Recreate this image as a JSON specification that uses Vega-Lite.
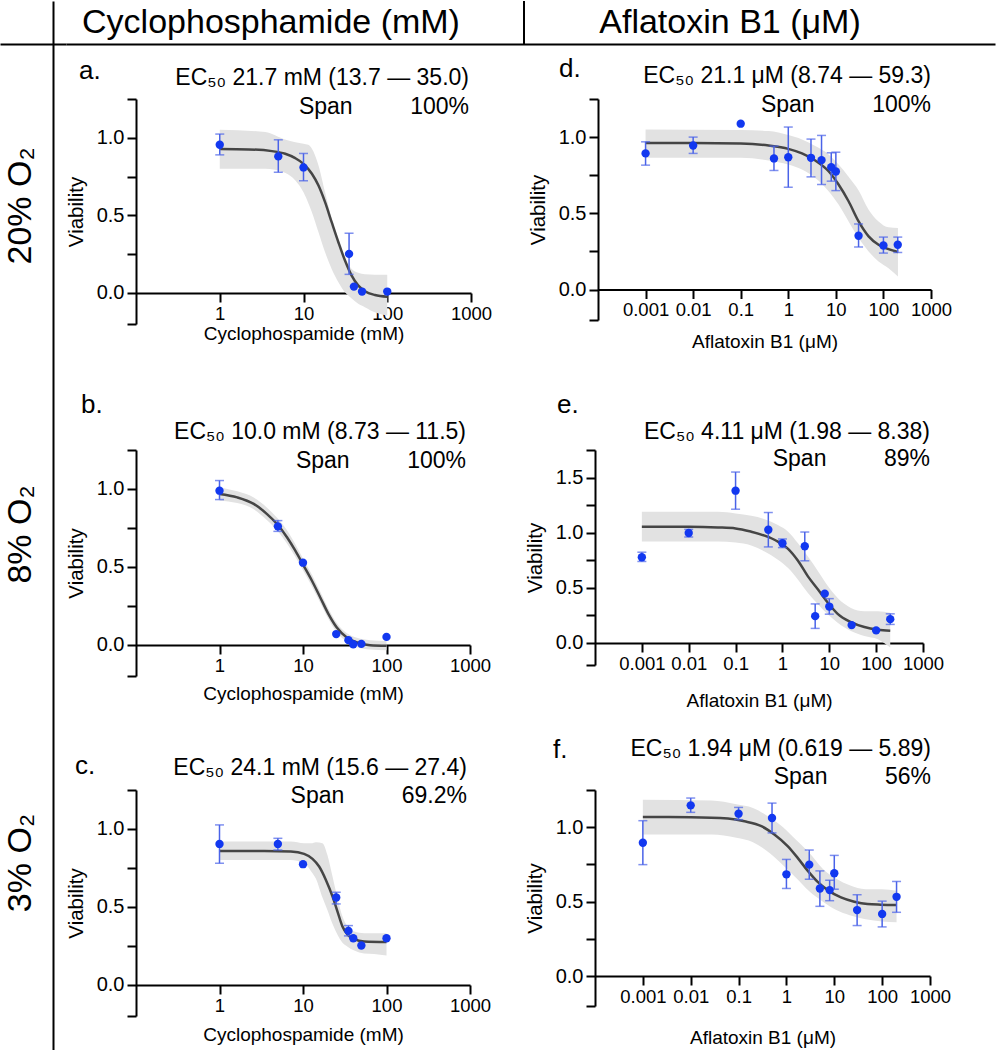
{
"$schema": "https://vega.github.io/schema/vega-lite/v6.json",
"padding": 0,
"spacing": 0,
"config": {
  "font": "Liberation Sans",
  "view": {"stroke": null},
  "axis": {"domainColor": "black", "domainWidth": 2, "tickColor": "black", "tickWidth": 2, "tickSize": 9, "labelColor": "black", "titleColor": "black", "grid": false, "labelFont": "Liberation Sans", "titleFont": "Liberation Sans", "titleFontWeight": "normal", "labelFlush": false, "labelOverlap": false},
  "axisX": {"labelFontSize": 18.5, "titleFontSize": 19, "labelPadding": 2, "tickCount": 20},
  "axisY": {"labelFontSize": 20, "titleFontSize": 20.5, "labelPadding": 3, "titlePadding": 10, "tickCount": 20},
  "text": {"font": "Liberation Sans", "color": "black"}
},
"datasets": {
  "rows": [{"r": "20% O₂"}, {"r": "8% O₂"}, {"r": "3% O₂"}],
  "pts": [
    {"p":"a","x":1,"y":0.955,"lo":0.89,"hi":1.024},
    {"p":"a","x":5,"y":0.88,"lo":0.778,"hi":0.987},
    {"p":"a","x":10,"y":0.809,"lo":0.723,"hi":0.899},
    {"p":"a","x":35,"y":0.252,"lo":0.12,"hi":0.385},
    {"p":"a","x":40,"y":0.041},
    {"p":"a","x":50,"y":0.009},
    {"p":"a","x":100,"y":0.009},
    {"p":"b","x":1,"y":0.989,"lo":0.932,"hi":1.054},
    {"p":"b","x":5,"y":0.76,"lo":0.728,"hi":0.797},
    {"p":"b","x":10,"y":0.527},
    {"p":"b","x":25,"y":0.069},
    {"p":"b","x":35,"y":0.03},
    {"p":"b","x":40,"y":0.004},
    {"p":"b","x":50,"y":0.006},
    {"p":"b","x":100,"y":0.051},
    {"p":"c","x":1,"y":0.904,"lo":0.78,"hi":1.026},
    {"p":"c","x":5,"y":0.904,"lo":0.865,"hi":0.94},
    {"p":"c","x":10,"y":0.774},
    {"p":"c","x":25,"y":0.56,"lo":0.519,"hi":0.594},
    {"p":"c","x":35,"y":0.346,"lo":0.314,"hi":0.38},
    {"p":"c","x":40,"y":0.299},
    {"p":"c","x":50,"y":0.252},
    {"p":"c","x":100,"y":0.299},
    {"p":"d","x":0.001,"y":0.893,"lo":0.816,"hi":0.969},
    {"p":"d","x":0.01,"y":0.945,"lo":0.893,"hi":1.0},
    {"p":"d","x":0.1,"y":1.088},
    {"p":"d","x":0.5,"y":0.86,"lo":0.781,"hi":0.941},
    {"p":"d","x":1,"y":0.868,"lo":0.671,"hi":1.066},
    {"p":"d","x":3,"y":0.864,"lo":0.739,"hi":0.987},
    {"p":"d","x":5,"y":0.849,"lo":0.689,"hi":1.011},
    {"p":"d","x":8,"y":0.803,"lo":0.711,"hi":0.897},
    {"p":"d","x":10,"y":0.774,"lo":0.649,"hi":0.901},
    {"p":"d","x":30,"y":0.353,"lo":0.279,"hi":0.43},
    {"p":"d","x":100,"y":0.289,"lo":0.239,"hi":0.344},
    {"p":"d","x":200,"y":0.294,"lo":0.243,"hi":0.344},
    {"p":"e","x":0.001,"y":0.778,"lo":0.739,"hi":0.823},
    {"p":"e","x":0.01,"y":0.997,"lo":0.961,"hi":1.03},
    {"p":"e","x":0.1,"y":1.381,"lo":1.213,"hi":1.55},
    {"p":"e","x":0.5,"y":1.027,"lo":0.871,"hi":1.183},
    {"p":"e","x":1,"y":0.904,"lo":0.865,"hi":0.943},
    {"p":"e","x":3,"y":0.877,"lo":0.745,"hi":1.006},
    {"p":"e","x":5,"y":0.243,"lo":0.132,"hi":0.354},
    {"p":"e","x":8,"y":0.447},
    {"p":"e","x":10,"y":0.33,"lo":0.261,"hi":0.402},
    {"p":"e","x":30,"y":0.162},
    {"p":"e","x":100,"y":0.114},
    {"p":"e","x":200,"y":0.216,"lo":0.168,"hi":0.264},
    {"p":"f","x":0.001,"y":0.896,"lo":0.749,"hi":1.044},
    {"p":"f","x":0.01,"y":1.147,"lo":1.1,"hi":1.196},
    {"p":"f","x":0.1,"y":1.091,"lo":1.051,"hi":1.133},
    {"p":"f","x":0.5,"y":1.062,"lo":0.962,"hi":1.162},
    {"p":"f","x":1,"y":0.684,"lo":0.589,"hi":0.784},
    {"p":"f","x":3,"y":0.749,"lo":0.651,"hi":0.847},
    {"p":"f","x":5,"y":0.589,"lo":0.469,"hi":0.707},
    {"p":"f","x":8,"y":0.578,"lo":0.507,"hi":0.644},
    {"p":"f","x":10,"y":0.691,"lo":0.584,"hi":0.811},
    {"p":"f","x":30,"y":0.444,"lo":0.34,"hi":0.547},
    {"p":"f","x":100,"y":0.418,"lo":0.331,"hi":0.504},
    {"p":"f","x":200,"y":0.533,"lo":0.429,"hi":0.636}
  ],
  "curve": [
    {"p":"a","x":1,"y":0.927},{"p":"a","x":2.21,"y":0.925},{"p":"a","x":4.2,"y":0.914},{"p":"a","x":6.05,"y":0.897},{"p":"a","x":7.96,"y":0.869},{"p":"a","x":10,"y":0.832},{"p":"a","x":12.6,"y":0.768},{"p":"a","x":15.1,"y":0.692},{"p":"a","x":18.1,"y":0.585},{"p":"a","x":21.7,"y":0.456},{"p":"a","x":26.1,"y":0.327},{"p":"a","x":31.3,"y":0.209},{"p":"a","x":37.6,"y":0.112},{"p":"a","x":45.2,"y":0.047},{"p":"a","x":54.2,"y":0.011},{"p":"a","x":71.3,"y":-0.013},{"p":"a","x":100,"y":-0.024},
    {"p":"b","x":1,"y":0.968},{"p":"b","x":1.63,"y":0.946},{"p":"b","x":2.57,"y":0.904},{"p":"b","x":3.71,"y":0.839},{"p":"b","x":4.89,"y":0.775},{"p":"b","x":6.43,"y":0.69},{"p":"b","x":8.09,"y":0.604},{"p":"b","x":10.2,"y":0.507},{"p":"b","x":12.8,"y":0.411},{"p":"b","x":16.1,"y":0.304},{"p":"b","x":20.2,"y":0.197},{"p":"b","x":25.4,"y":0.111},{"p":"b","x":33.5,"y":0.047},{"p":"b","x":44.3,"y":0.015},{"p":"b","x":63.6,"y":-0.002},{"p":"b","x":100,"y":-0.006},
    {"p":"c","x":1,"y":0.859},{"p":"c","x":3.43,"y":0.859},{"p":"c","x":7.14,"y":0.855},{"p":"c","x":10.3,"y":0.84},{"p":"c","x":13,"y":0.808},{"p":"c","x":15.6,"y":0.759},{"p":"c","x":18.8,"y":0.673},{"p":"c","x":22.6,"y":0.566},{"p":"c","x":25.9,"y":0.47},{"p":"c","x":29.7,"y":0.374},{"p":"c","x":34.2,"y":0.321},{"p":"c","x":41.1,"y":0.293},{"p":"c","x":54,"y":0.278},{"p":"c","x":100,"y":0.274},
    {"p":"d","x":0.001,"y":0.961},{"p":"d","x":0.01,"y":0.961},{"p":"d","x":0.1,"y":0.958},{"p":"d","x":0.386,"y":0.945},{"p":"d","x":1,"y":0.923},{"p":"d","x":1.94,"y":0.893},{"p":"d","x":3.69,"y":0.846},{"p":"d","x":7.03,"y":0.776},{"p":"d","x":11.4,"y":0.689},{"p":"d","x":18.5,"y":0.579},{"p":"d","x":30.1,"y":0.447},{"p":"d","x":48.8,"y":0.349},{"p":"d","x":79,"y":0.294},{"p":"d","x":128,"y":0.265},{"p":"d","x":202,"y":0.246},
    {"p":"e","x":0.001,"y":1.054},{"p":"e","x":0.01,"y":1.054},{"p":"e","x":0.042,"y":1.048},{"p":"e","x":0.1,"y":1.039},{"p":"e","x":0.216,"y":1.009},{"p":"e","x":0.416,"y":0.973},{"p":"e","x":0.8,"y":0.919},{"p":"e","x":1.32,"y":0.853},{"p":"e","x":2.15,"y":0.745},{"p":"e","x":3.5,"y":0.604},{"p":"e","x":5.8,"y":0.483},{"p":"e","x":9.4,"y":0.363},{"p":"e","x":15.1,"y":0.264},{"p":"e","x":29,"y":0.189},{"p":"e","x":56,"y":0.144},{"p":"e","x":109,"y":0.12},{"p":"e","x":200,"y":0.111},
    {"p":"f","x":0.001,"y":1.069},{"p":"f","x":0.01,"y":1.067},{"p":"f","x":0.06,"y":1.058},{"p":"f","x":0.133,"y":1.04},{"p":"f","x":0.3,"y":1.007},{"p":"f","x":0.56,"y":0.951},{"p":"f","x":1.06,"y":0.873},{"p":"f","x":1.7,"y":0.796},{"p":"f","x":2.8,"y":0.707},{"p":"f","x":4.5,"y":0.633},{"p":"f","x":7.3,"y":0.578},{"p":"f","x":13.8,"y":0.529},{"p":"f","x":26.2,"y":0.5},{"p":"f","x":49.5,"y":0.484},{"p":"f","x":94,"y":0.48},{"p":"f","x":200,"y":0.478}
  ],
  "band": [
    {"p":"a","x":1,"lo":0.8,"hi":1.052},{"p":"a","x":3.5,"lo":0.8,"hi":1.037},{"p":"a","x":6,"lo":0.775,"hi":0.989},{"p":"a","x":8,"lo":0.725,"hi":0.972},{"p":"a","x":10,"lo":0.649,"hi":0.962},{"p":"a","x":11.4,"lo":0.58,"hi":0.955},{"p":"a","x":12.6,"lo":0.52,"hi":0.93},{"p":"a","x":15.1,"lo":0.391,"hi":0.822},{"p":"a","x":18.1,"lo":0.262,"hi":0.649},{"p":"a","x":21.7,"lo":0.155,"hi":0.477},{"p":"a","x":26.1,"lo":0.069,"hi":0.327},{"p":"a","x":31.3,"lo":0.004,"hi":0.219},{"p":"a","x":37.6,"lo":-0.035,"hi":0.155},{"p":"a","x":45,"lo":-0.07,"hi":0.13},{"p":"a","x":54,"lo":-0.092,"hi":0.12},{"p":"a","x":71,"lo":-0.125,"hi":0.118},{"p":"a","x":100,"lo":-0.146,"hi":0.118},
    {"p":"b","x":1,"lo":0.925,"hi":1.01},{"p":"b","x":1.63,"lo":0.91,"hi":0.985},{"p":"b","x":2.57,"lo":0.87,"hi":0.945},{"p":"b","x":3.71,"lo":0.8,"hi":0.88},{"p":"b","x":4.89,"lo":0.735,"hi":0.815},{"p":"b","x":6.43,"lo":0.65,"hi":0.735},{"p":"b","x":8.09,"lo":0.565,"hi":0.645},{"p":"b","x":10.2,"lo":0.47,"hi":0.545},{"p":"b","x":12.8,"lo":0.375,"hi":0.45},{"p":"b","x":16.1,"lo":0.27,"hi":0.34},{"p":"b","x":20.2,"lo":0.165,"hi":0.23},{"p":"b","x":25.4,"lo":0.08,"hi":0.14},{"p":"b","x":33.5,"lo":0.02,"hi":0.075},{"p":"b","x":44.3,"lo":-0.015,"hi":0.045},{"p":"b","x":63.6,"lo":-0.03,"hi":0.03},{"p":"b","x":100,"lo":-0.035,"hi":0.025},
    {"p":"c","x":1,"lo":0.801,"hi":0.919},{"p":"c","x":7.1,"lo":0.801,"hi":0.919},{"p":"c","x":10.3,"lo":0.78,"hi":0.908},{"p":"c","x":12.6,"lo":0.726,"hi":0.908},{"p":"c","x":14.3,"lo":0.68,"hi":0.915},{"p":"c","x":17.1,"lo":0.56,"hi":0.908},{"p":"c","x":19.6,"lo":0.48,"hi":0.833},{"p":"c","x":22.6,"lo":0.39,"hi":0.694},{"p":"c","x":25.9,"lo":0.321,"hi":0.556},{"p":"c","x":29.7,"lo":0.27,"hi":0.438},{"p":"c","x":34.2,"lo":0.245,"hi":0.374},{"p":"c","x":41.1,"lo":0.22,"hi":0.342},{"p":"c","x":54,"lo":0.201,"hi":0.331},{"p":"c","x":71,"lo":0.197,"hi":0.331},{"p":"c","x":100,"lo":0.188,"hi":0.331},
    {"p":"d","x":0.001,"lo":0.864,"hi":1.05},{"p":"d","x":0.1,"lo":0.864,"hi":1.046},{"p":"d","x":0.386,"lo":0.846,"hi":1.04},{"p":"d","x":1,"lo":0.82,"hi":1.013},{"p":"d","x":1.94,"lo":0.787,"hi":0.985},{"p":"d","x":3.69,"lo":0.732,"hi":0.941},{"p":"d","x":7.03,"lo":0.645,"hi":0.886},{"p":"d","x":11.4,"lo":0.557,"hi":0.82},{"p":"d","x":18.5,"lo":0.447,"hi":0.74},{"p":"d","x":30.1,"lo":0.338,"hi":0.65},{"p":"d","x":48.8,"lo":0.25,"hi":0.524},{"p":"d","x":79,"lo":0.184,"hi":0.447},{"p":"d","x":128,"lo":0.14,"hi":0.408},{"p":"d","x":202,"lo":0.086,"hi":0.404},
    {"p":"e","x":0.001,"lo":0.919,"hi":1.189},{"p":"e","x":0.042,"lo":0.919,"hi":1.189},{"p":"e","x":0.1,"lo":0.91,"hi":1.174},{"p":"e","x":0.216,"lo":0.883,"hi":1.153},{"p":"e","x":0.416,"lo":0.829,"hi":1.123},{"p":"e","x":0.8,"lo":0.754,"hi":1.069},{"p":"e","x":1.32,"lo":0.679,"hi":1.009},{"p":"e","x":2.15,"lo":0.574,"hi":0.904},{"p":"e","x":3.5,"lo":0.453,"hi":0.784},{"p":"e","x":5.8,"lo":0.348,"hi":0.649},{"p":"e","x":9.4,"lo":0.258,"hi":0.514},{"p":"e","x":15.1,"lo":0.183,"hi":0.408},{"p":"e","x":29,"lo":0.108,"hi":0.318},{"p":"e","x":56,"lo":0.063,"hi":0.288},{"p":"e","x":109,"lo":0.033,"hi":0.288},{"p":"e","x":200,"lo":-0.042,"hi":0.273},
    {"p":"f","x":0.001,"lo":0.951,"hi":1.184},{"p":"f","x":0.027,"lo":0.951,"hi":1.18},{"p":"f","x":0.09,"lo":0.93,"hi":1.155},{"p":"f","x":0.2,"lo":0.9,"hi":1.13},{"p":"f","x":0.45,"lo":0.825,"hi":1.065},{"p":"f","x":0.85,"lo":0.745,"hi":1.0},{"p":"f","x":1.6,"lo":0.66,"hi":0.915},{"p":"f","x":3,"lo":0.57,"hi":0.829},{"p":"f","x":5.8,"lo":0.5,"hi":0.72},{"p":"f","x":11,"lo":0.445,"hi":0.655},{"p":"f","x":21,"lo":0.41,"hi":0.61},{"p":"f","x":45,"lo":0.382,"hi":0.584},{"p":"f","x":100,"lo":0.367,"hi":0.584},{"p":"f","x":200,"lo":0.362,"hi":0.573}
  ]
},
"hconcat": [
  {"width": 66, "height": 1050,
   "data": {"name": "rows"},
   "mark": {"type": "text", "fontSize": 34, "angle": 270, "align": "center", "baseline": "middle", "dy": -12},
   "encoding": {
     "text": {"field": "r"},
     "x": {"datum": 0, "type": "quantitative", "scale": {"domain": [-1, 1]}, "axis": {"orient": "top", "offset": -43, "domain": true, "ticks": false, "labels": false, "title": null}},
     "y": {"field": "r", "type": "nominal", "sort": null, "scale": {"type": "point", "padding": 0.598, "align": 0.5216}, "axis": {"orient": "right", "offset": -13, "domain": true, "ticks": false, "labels": false, "title": null}}}},
  {"concat": [
    {"width": 859, "height": 43,
     "data": {"values": [{}]},
     "layer": [
       {"mark": {"type": "rule", "color": "black", "strokeWidth": 2},
        "encoding": {"x": {"datum": 1, "type": "quantitative", "scale": {"domain": [0, 2.0284], "range": [-70, 859], "nice": false, "zero": false},
          "axis": {"orient": "bottom", "domain": true, "ticks": false, "labels": false, "title": null}}}},
       {"mark": {"type": "text", "text": "Cyclophosphamide (mM)", "fontSize": 34, "baseline": "middle", "dx": -24},
        "encoding": {"x": {"datum": 0.5, "type": "quantitative", "scale": {"domain": [0, 2.0284], "range": [-70, 859], "nice": false, "zero": false}}}},
       {"mark": {"type": "text", "text": "Aflatoxin B1 (μM)", "fontSize": 34, "baseline": "middle", "dx": -23},
        "encoding": {"x": {"datum": 1.5, "type": "quantitative", "scale": {"domain": [0, 2.0284], "range": [-70, 859], "nice": false, "zero": false}}}}
     ]},
    {"vconcat": [
      {"hconcat": [
        {"width": 335, "height": 225,
         "layer": [
          {"data": {"name": "band"}, "transform": [{"filter": "datum.p=='a'"}],
           "mark": {"type": "area", "color": "#e2e2e2", "interpolate": "monotone"},
           "encoding": {
             "x": {"field": "x", "type": "quantitative", "title": "Cyclophospamide (mM)", "scale": {"type": "log", "domain": [0.1, 1000], "nice": false}, "axis": {"values": [1, 10, 100, 1000], "format": "~g", "offset": -31, "titlePadding": 2}},
             "y": {"field": "lo", "type": "quantitative", "title": "Viability", "scale": {"domain": [-0.2, 1.25], "nice": false, "zero": false}, "axis": {"values": [-0.2, 0, 0.25, 0.5, 0.75, 1, 1.25], "tickCount": 20, "labelExpr": "datum.value == 0 ? '0.0' : datum.value == 0.5 ? '0.5' : datum.value == 1 ? '1.0' : ''"}},
             "y2": {"field": "hi"}}},
          {"data": {"name": "curve"}, "transform": [{"filter": "datum.p=='a'"}],
           "mark": {"type": "line", "color": "#454545", "strokeWidth": 2.5, "interpolate": "monotone"},
           "encoding": {"x": {"field": "x", "type": "quantitative", "title": "Cyclophospamide (mM)", "scale": {"type": "log", "domain": [0.1, 1000], "nice": false}}, "y": {"field": "y", "type": "quantitative", "title": "Viability", "scale": {"domain": [-0.2, 1.25], "nice": false, "zero": false}}}},
          {"data": {"name": "pts"}, "transform": [{"filter": "datum.p=='a' && isValid(datum.lo)"}],
           "mark": {"type": "errorbar", "ticks": {"size": 9}, "thickness": 1.5, "color": "#4a63e8"},
           "encoding": {"x": {"field": "x", "type": "quantitative", "title": "Cyclophospamide (mM)", "scale": {"type": "log", "domain": [0.1, 1000], "nice": false}}, "y": {"field": "lo", "type": "quantitative", "title": "Viability", "scale": {"domain": [-0.2, 1.25], "nice": false, "zero": false}}, "y2": {"field": "hi"}}},
          {"data": {"name": "pts"}, "transform": [{"filter": "datum.p=='a'"}],
           "mark": {"type": "circle", "size": 70, "color": "#1238f0", "opacity": 1},
           "encoding": {"x": {"field": "x", "type": "quantitative", "title": "Cyclophospamide (mM)", "scale": {"type": "log", "domain": [0.1, 1000], "nice": false}}, "y": {"field": "y", "type": "quantitative", "title": "Viability", "scale": {"domain": [-0.2, 1.25], "nice": false, "zero": false}}}},
          {"data": {"values": [{}]},
           "mark": {"type": "text", "text": "a.", "fontSize": 26, "align": "left", "baseline": "alphabetic", "dx": -57, "dy": -20},
           "encoding": {"x": {"datum": 0.1, "type": "quantitative", "scale": {"type": "log", "domain": [0.1, 1000], "nice": false}}, "y": {"datum": 1.25, "type": "quantitative", "scale": {"domain": [-0.2, 1.25], "nice": false, "zero": false}}}},
          {"data": {"values": [{}]},
           "mark": {"type": "text", "text": "EC₅₀ 21.7 mM (13.7 — 35.0)", "fontSize": 23, "align": "right", "baseline": "alphabetic", "dx": -2, "dy": -14},
           "encoding": {"x": {"datum": 1000, "type": "quantitative", "scale": {"type": "log", "domain": [0.1, 1000], "nice": false}}, "y": {"datum": 1.25, "type": "quantitative", "scale": {"domain": [-0.2, 1.25], "nice": false, "zero": false}}}},
          {"data": {"values": [{}]},
           "mark": {"type": "text", "text": "Span\u00a0\u00a0\u00a0\u00a0\u00a0\u00a0\u00a0\u00a0\u00a0100%", "fontSize": 23, "align": "right", "baseline": "alphabetic", "dx": -2, "dy": 15},
           "encoding": {"x": {"datum": 1000, "type": "quantitative", "scale": {"type": "log", "domain": [0.1, 1000], "nice": false}}, "y": {"datum": 1.25, "type": "quantitative", "scale": {"domain": [-0.2, 1.25], "nice": false, "zero": false}}}}
         ]},
        {"width": 333, "height": 221,
         "layer": [
          {"data": {"name": "band"}, "transform": [{"filter": "datum.p=='d'"}],
           "mark": {"type": "area", "color": "#e2e2e2", "interpolate": "monotone"},
           "encoding": {
             "x": {"field": "x", "type": "quantitative", "title": "Aflatoxin B1 (μM)", "scale": {"type": "log", "domain": [0.0001, 1000], "nice": false}, "axis": {"values": [0.001, 0.01, 0.1, 1, 10, 100, 1000], "format": "~g", "offset": -30.5, "titlePadding": 13}},
             "y": {"field": "lo", "type": "quantitative", "title": "Viability", "scale": {"domain": [-0.2, 1.25], "nice": false, "zero": false}, "axis": {"values": [-0.2, 0, 0.25, 0.5, 0.75, 1, 1.25], "tickCount": 20, "labelExpr": "datum.value == 0 ? '0.0' : datum.value == 0.5 ? '0.5' : datum.value == 1 ? '1.0' : ''"}},
             "y2": {"field": "hi"}}},
          {"data": {"name": "curve"}, "transform": [{"filter": "datum.p=='d'"}],
           "mark": {"type": "line", "color": "#454545", "strokeWidth": 2.5, "interpolate": "monotone"},
           "encoding": {"x": {"field": "x", "type": "quantitative", "title": "Aflatoxin B1 (μM)", "scale": {"type": "log", "domain": [0.0001, 1000], "nice": false}}, "y": {"field": "y", "type": "quantitative", "title": "Viability", "scale": {"domain": [-0.2, 1.25], "nice": false, "zero": false}}}},
          {"data": {"name": "pts"}, "transform": [{"filter": "datum.p=='d' && isValid(datum.lo)"}],
           "mark": {"type": "errorbar", "ticks": {"size": 9}, "thickness": 1.5, "color": "#4a63e8"},
           "encoding": {"x": {"field": "x", "type": "quantitative", "title": "Aflatoxin B1 (μM)", "scale": {"type": "log", "domain": [0.0001, 1000], "nice": false}}, "y": {"field": "lo", "type": "quantitative", "title": "Viability", "scale": {"domain": [-0.2, 1.25], "nice": false, "zero": false}}, "y2": {"field": "hi"}}},
          {"data": {"name": "pts"}, "transform": [{"filter": "datum.p=='d'"}],
           "mark": {"type": "circle", "size": 70, "color": "#1238f0", "opacity": 1},
           "encoding": {"x": {"field": "x", "type": "quantitative", "title": "Aflatoxin B1 (μM)", "scale": {"type": "log", "domain": [0.0001, 1000], "nice": false}}, "y": {"field": "y", "type": "quantitative", "title": "Viability", "scale": {"domain": [-0.2, 1.25], "nice": false, "zero": false}}}},
          {"data": {"values": [{}]},
           "mark": {"type": "text", "text": "d.", "fontSize": 26, "align": "left", "baseline": "alphabetic", "dx": -39, "dy": -22},
           "encoding": {"x": {"datum": 0.0001, "type": "quantitative", "scale": {"type": "log", "domain": [0.0001, 1000], "nice": false}}, "y": {"datum": 1.25, "type": "quantitative", "scale": {"domain": [-0.2, 1.25], "nice": false, "zero": false}}}},
          {"data": {"values": [{}]},
           "mark": {"type": "text", "text": "EC₅₀ 21.1 μM (8.74 — 59.3)", "fontSize": 23, "align": "right", "baseline": "alphabetic", "dx": 0, "dy": -16},
           "encoding": {"x": {"datum": 1000, "type": "quantitative", "scale": {"type": "log", "domain": [0.0001, 1000], "nice": false}}, "y": {"datum": 1.25, "type": "quantitative", "scale": {"domain": [-0.2, 1.25], "nice": false, "zero": false}}}},
          {"data": {"values": [{}]},
           "mark": {"type": "text", "text": "Span\u00a0\u00a0\u00a0\u00a0\u00a0\u00a0\u00a0\u00a0\u00a0100%", "fontSize": 23, "align": "right", "baseline": "alphabetic", "dx": 0, "dy": 13},
           "encoding": {"x": {"datum": 1000, "type": "quantitative", "scale": {"type": "log", "domain": [0.0001, 1000], "nice": false}}, "y": {"datum": 1.25, "type": "quantitative", "scale": {"domain": [-0.2, 1.25], "nice": false, "zero": false}}}}
         ]}
      ], "spacing": 36},
      {"vconcat": [
        {"hconcat": [
          {"width": 334, "height": 226,
           "layer": [
            {"data": {"name": "band"}, "transform": [{"filter": "datum.p=='b'"}],
             "mark": {"type": "area", "color": "#e2e2e2", "interpolate": "monotone"},
             "encoding": {
               "x": {"field": "x", "type": "quantitative", "title": "Cyclophospamide (mM)", "scale": {"type": "log", "domain": [0.1, 1000], "nice": false}, "axis": {"values": [1, 10, 100, 1000], "format": "~g", "offset": -31, "titlePadding": 10}},
               "y": {"field": "lo", "type": "quantitative", "title": "Viability", "scale": {"domain": [-0.2, 1.25], "nice": false, "zero": false}, "axis": {"values": [-0.2, 0, 0.25, 0.5, 0.75, 1, 1.25], "tickCount": 20, "labelExpr": "datum.value == 0 ? '0.0' : datum.value == 0.5 ? '0.5' : datum.value == 1 ? '1.0' : ''"}},
               "y2": {"field": "hi"}}},
            {"data": {"name": "curve"}, "transform": [{"filter": "datum.p=='b'"}],
             "mark": {"type": "line", "color": "#454545", "strokeWidth": 2.5, "interpolate": "monotone"},
             "encoding": {"x": {"field": "x", "type": "quantitative", "title": "Cyclophospamide (mM)", "scale": {"type": "log", "domain": [0.1, 1000], "nice": false}}, "y": {"field": "y", "type": "quantitative", "title": "Viability", "scale": {"domain": [-0.2, 1.25], "nice": false, "zero": false}}}},
            {"data": {"name": "pts"}, "transform": [{"filter": "datum.p=='b' && isValid(datum.lo)"}],
             "mark": {"type": "errorbar", "ticks": {"size": 9}, "thickness": 1.5, "color": "#4a63e8"},
             "encoding": {"x": {"field": "x", "type": "quantitative", "title": "Cyclophospamide (mM)", "scale": {"type": "log", "domain": [0.1, 1000], "nice": false}}, "y": {"field": "lo", "type": "quantitative", "title": "Viability", "scale": {"domain": [-0.2, 1.25], "nice": false, "zero": false}}, "y2": {"field": "hi"}}},
            {"data": {"name": "pts"}, "transform": [{"filter": "datum.p=='b'"}],
             "mark": {"type": "circle", "size": 70, "color": "#1238f0", "opacity": 1},
             "encoding": {"x": {"field": "x", "type": "quantitative", "title": "Cyclophospamide (mM)", "scale": {"type": "log", "domain": [0.1, 1000], "nice": false}}, "y": {"field": "y", "type": "quantitative", "title": "Viability", "scale": {"domain": [-0.2, 1.25], "nice": false, "zero": false}}}},
            {"data": {"values": [{}]},
             "mark": {"type": "text", "text": "b.", "fontSize": 26, "align": "left", "baseline": "alphabetic", "dx": -55, "dy": -37},
             "encoding": {"x": {"datum": 0.1, "type": "quantitative", "scale": {"type": "log", "domain": [0.1, 1000], "nice": false}}, "y": {"datum": 1.25, "type": "quantitative", "scale": {"domain": [-0.2, 1.25], "nice": false, "zero": false}}}},
            {"data": {"values": [{}]},
             "mark": {"type": "text", "text": "EC₅₀ 10.0 mM (8.73 — 11.5)", "fontSize": 23, "align": "right", "baseline": "alphabetic", "dx": -4, "dy": -11},
             "encoding": {"x": {"datum": 1000, "type": "quantitative", "scale": {"type": "log", "domain": [0.1, 1000], "nice": false}}, "y": {"datum": 1.25, "type": "quantitative", "scale": {"domain": [-0.2, 1.25], "nice": false, "zero": false}}}},
            {"data": {"values": [{}]},
             "mark": {"type": "text", "text": "Span\u00a0\u00a0\u00a0\u00a0\u00a0\u00a0\u00a0\u00a0\u00a0100%", "fontSize": 23, "align": "right", "baseline": "alphabetic", "dx": -4, "dy": 18},
             "encoding": {"x": {"datum": 1000, "type": "quantitative", "scale": {"type": "log", "domain": [0.1, 1000], "nice": false}}, "y": {"datum": 1.25, "type": "quantitative", "scale": {"domain": [-0.2, 1.25], "nice": false, "zero": false}}}}
           ]},
          {"width": 328, "height": 215,
           "layer": [
            {"data": {"name": "band"}, "transform": [{"filter": "datum.p=='e'"}],
             "mark": {"type": "area", "color": "#e2e2e2", "interpolate": "monotone"},
             "encoding": {
               "x": {"field": "x", "type": "quantitative", "title": "Aflatoxin B1 (μM)", "scale": {"type": "log", "domain": [0.0001, 1000], "nice": false}, "axis": {"values": [0.001, 0.01, 0.1, 1, 10, 100, 1000], "format": "~g", "offset": -22, "titlePadding": 19}},
               "y": {"field": "lo", "type": "quantitative", "title": "Viability", "scale": {"domain": [-0.2, 1.75], "nice": false, "zero": false}, "axis": {"values": [-0.2, 0, 0.25, 0.5, 0.75, 1, 1.25, 1.5, 1.75], "tickCount": 20, "labelExpr": "datum.value == 0 ? '0.0' : datum.value == 0.5 ? '0.5' : datum.value == 1 ? '1.0' : datum.value == 1.5 ? '1.5' : ''"}},
               "y2": {"field": "hi"}}},
            {"data": {"name": "curve"}, "transform": [{"filter": "datum.p=='e'"}],
             "mark": {"type": "line", "color": "#454545", "strokeWidth": 2.5, "interpolate": "monotone"},
             "encoding": {"x": {"field": "x", "type": "quantitative", "title": "Aflatoxin B1 (μM)", "scale": {"type": "log", "domain": [0.0001, 1000], "nice": false}}, "y": {"field": "y", "type": "quantitative", "title": "Viability", "scale": {"domain": [-0.2, 1.75], "nice": false, "zero": false}}}},
            {"data": {"name": "pts"}, "transform": [{"filter": "datum.p=='e' && isValid(datum.lo)"}],
             "mark": {"type": "errorbar", "ticks": {"size": 9}, "thickness": 1.5, "color": "#4a63e8"},
             "encoding": {"x": {"field": "x", "type": "quantitative", "title": "Aflatoxin B1 (μM)", "scale": {"type": "log", "domain": [0.0001, 1000], "nice": false}}, "y": {"field": "lo", "type": "quantitative", "title": "Viability", "scale": {"domain": [-0.2, 1.75], "nice": false, "zero": false}}, "y2": {"field": "hi"}}},
            {"data": {"name": "pts"}, "transform": [{"filter": "datum.p=='e'"}],
             "mark": {"type": "circle", "size": 70, "color": "#1238f0", "opacity": 1},
             "encoding": {"x": {"field": "x", "type": "quantitative", "title": "Aflatoxin B1 (μM)", "scale": {"type": "log", "domain": [0.0001, 1000], "nice": false}}, "y": {"field": "y", "type": "quantitative", "title": "Viability", "scale": {"domain": [-0.2, 1.75], "nice": false, "zero": false}}}},
            {"data": {"values": [{}]},
             "mark": {"type": "text", "text": "e.", "fontSize": 26, "align": "left", "baseline": "alphabetic", "dx": -38, "dy": -37},
             "encoding": {"x": {"datum": 0.0001, "type": "quantitative", "scale": {"type": "log", "domain": [0.0001, 1000], "nice": false}}, "y": {"datum": 1.75, "type": "quantitative", "scale": {"domain": [-0.2, 1.75], "nice": false, "zero": false}}}},
            {"data": {"values": [{}]},
             "mark": {"type": "text", "text": "EC₅₀ 4.11 μM (1.98 — 8.38)", "fontSize": 23, "align": "right", "baseline": "alphabetic", "dx": 7, "dy": -11},
             "encoding": {"x": {"datum": 1000, "type": "quantitative", "scale": {"type": "log", "domain": [0.0001, 1000], "nice": false}}, "y": {"datum": 1.75, "type": "quantitative", "scale": {"domain": [-0.2, 1.75], "nice": false, "zero": false}}}},
            {"data": {"values": [{}]},
             "mark": {"type": "text", "text": "Span\u00a0\u00a0\u00a0\u00a0\u00a0\u00a0\u00a0\u00a0\u00a089%", "fontSize": 23, "align": "right", "baseline": "alphabetic", "dx": 7, "dy": 16},
             "encoding": {"x": {"datum": 1000, "type": "quantitative", "scale": {"type": "log", "domain": [0.0001, 1000], "nice": false}}, "y": {"datum": 1.75, "type": "quantitative", "scale": {"domain": [-0.2, 1.75], "nice": false, "zero": false}}}}
           ]}
        ], "spacing": 34},
        {"hconcat": [
          {"width": 334, "height": 226,
           "layer": [
            {"data": {"name": "band"}, "transform": [{"filter": "datum.p=='c'"}],
             "mark": {"type": "area", "color": "#e2e2e2", "interpolate": "monotone"},
             "encoding": {
               "x": {"field": "x", "type": "quantitative", "title": "Cyclophospamide (mM)", "scale": {"type": "log", "domain": [0.1, 1000], "nice": false}, "axis": {"values": [1, 10, 100, 1000], "format": "~g", "offset": -31, "titlePadding": 11}},
               "y": {"field": "lo", "type": "quantitative", "title": "Viability", "scale": {"domain": [-0.2, 1.25], "nice": false, "zero": false}, "axis": {"values": [-0.2, 0, 0.25, 0.5, 0.75, 1, 1.25], "tickCount": 20, "labelExpr": "datum.value == 0 ? '0.0' : datum.value == 0.5 ? '0.5' : datum.value == 1 ? '1.0' : ''"}},
               "y2": {"field": "hi"}}},
            {"data": {"name": "curve"}, "transform": [{"filter": "datum.p=='c'"}],
             "mark": {"type": "line", "color": "#454545", "strokeWidth": 2.5, "interpolate": "monotone"},
             "encoding": {"x": {"field": "x", "type": "quantitative", "title": "Cyclophospamide (mM)", "scale": {"type": "log", "domain": [0.1, 1000], "nice": false}}, "y": {"field": "y", "type": "quantitative", "title": "Viability", "scale": {"domain": [-0.2, 1.25], "nice": false, "zero": false}}}},
            {"data": {"name": "pts"}, "transform": [{"filter": "datum.p=='c' && isValid(datum.lo)"}],
             "mark": {"type": "errorbar", "ticks": {"size": 9}, "thickness": 1.5, "color": "#4a63e8"},
             "encoding": {"x": {"field": "x", "type": "quantitative", "title": "Cyclophospamide (mM)", "scale": {"type": "log", "domain": [0.1, 1000], "nice": false}}, "y": {"field": "lo", "type": "quantitative", "title": "Viability", "scale": {"domain": [-0.2, 1.25], "nice": false, "zero": false}}, "y2": {"field": "hi"}}},
            {"data": {"name": "pts"}, "transform": [{"filter": "datum.p=='c'"}],
             "mark": {"type": "circle", "size": 70, "color": "#1238f0", "opacity": 1},
             "encoding": {"x": {"field": "x", "type": "quantitative", "title": "Cyclophospamide (mM)", "scale": {"type": "log", "domain": [0.1, 1000], "nice": false}}, "y": {"field": "y", "type": "quantitative", "title": "Viability", "scale": {"domain": [-0.2, 1.25], "nice": false, "zero": false}}}},
            {"data": {"values": [{}]},
             "mark": {"type": "text", "text": "c.", "fontSize": 26, "align": "left", "baseline": "alphabetic", "dx": -61, "dy": -16},
             "encoding": {"x": {"datum": 0.1, "type": "quantitative", "scale": {"type": "log", "domain": [0.1, 1000], "nice": false}}, "y": {"datum": 1.25, "type": "quantitative", "scale": {"domain": [-0.2, 1.25], "nice": false, "zero": false}}}},
            {"data": {"values": [{}]},
             "mark": {"type": "text", "text": "EC₅₀ 24.1 mM (15.6 — 27.4)", "fontSize": 23, "align": "right", "baseline": "alphabetic", "dx": -3, "dy": -15},
             "encoding": {"x": {"datum": 1000, "type": "quantitative", "scale": {"type": "log", "domain": [0.1, 1000], "nice": false}}, "y": {"datum": 1.25, "type": "quantitative", "scale": {"domain": [-0.2, 1.25], "nice": false, "zero": false}}}},
            {"data": {"values": [{}]},
             "mark": {"type": "text", "text": "Span\u00a0\u00a0\u00a0\u00a0\u00a0\u00a0\u00a0\u00a0\u00a069.2%", "fontSize": 23, "align": "right", "baseline": "alphabetic", "dx": -3, "dy": 13},
             "encoding": {"x": {"datum": 1000, "type": "quantitative", "scale": {"type": "log", "domain": [0.1, 1000], "nice": false}}, "y": {"datum": 1.25, "type": "quantitative", "scale": {"domain": [-0.2, 1.25], "nice": false, "zero": false}}}}
           ]},
          {"width": 335, "height": 216,
           "layer": [
            {"data": {"name": "band"}, "transform": [{"filter": "datum.p=='f'"}],
             "mark": {"type": "area", "color": "#e2e2e2", "interpolate": "monotone"},
             "encoding": {
               "x": {"field": "x", "type": "quantitative", "title": "Aflatoxin B1 (μM)", "scale": {"type": "log", "domain": [0.0001, 1000], "nice": false}, "axis": {"values": [0.001, 0.01, 0.1, 1, 10, 100, 1000], "format": "~g", "offset": -30, "titlePadding": 23}},
               "y": {"field": "lo", "type": "quantitative", "title": "Viability", "scale": {"domain": [-0.2, 1.25], "nice": false, "zero": false}, "axis": {"values": [-0.2, 0, 0.25, 0.5, 0.75, 1, 1.25], "tickCount": 20, "labelExpr": "datum.value == 0 ? '0.0' : datum.value == 0.5 ? '0.5' : datum.value == 1 ? '1.0' : ''"}},
               "y2": {"field": "hi"}}},
            {"data": {"name": "curve"}, "transform": [{"filter": "datum.p=='f'"}],
             "mark": {"type": "line", "color": "#454545", "strokeWidth": 2.5, "interpolate": "monotone"},
             "encoding": {"x": {"field": "x", "type": "quantitative", "title": "Aflatoxin B1 (μM)", "scale": {"type": "log", "domain": [0.0001, 1000], "nice": false}}, "y": {"field": "y", "type": "quantitative", "title": "Viability", "scale": {"domain": [-0.2, 1.25], "nice": false, "zero": false}}}},
            {"data": {"name": "pts"}, "transform": [{"filter": "datum.p=='f' && isValid(datum.lo)"}],
             "mark": {"type": "errorbar", "ticks": {"size": 9}, "thickness": 1.5, "color": "#4a63e8"},
             "encoding": {"x": {"field": "x", "type": "quantitative", "title": "Aflatoxin B1 (μM)", "scale": {"type": "log", "domain": [0.0001, 1000], "nice": false}}, "y": {"field": "lo", "type": "quantitative", "title": "Viability", "scale": {"domain": [-0.2, 1.25], "nice": false, "zero": false}}, "y2": {"field": "hi"}}},
            {"data": {"name": "pts"}, "transform": [{"filter": "datum.p=='f'"}],
             "mark": {"type": "circle", "size": 70, "color": "#1238f0", "opacity": 1},
             "encoding": {"x": {"field": "x", "type": "quantitative", "title": "Aflatoxin B1 (μM)", "scale": {"type": "log", "domain": [0.0001, 1000], "nice": false}}, "y": {"field": "y", "type": "quantitative", "title": "Viability", "scale": {"domain": [-0.2, 1.25], "nice": false, "zero": false}}}},
            {"data": {"values": [{}]},
             "mark": {"type": "text", "text": "f.", "fontSize": 26, "align": "left", "baseline": "alphabetic", "dx": -42, "dy": -32},
             "encoding": {"x": {"datum": 0.0001, "type": "quantitative", "scale": {"type": "log", "domain": [0.0001, 1000], "nice": false}}, "y": {"datum": 1.25, "type": "quantitative", "scale": {"domain": [-0.2, 1.25], "nice": false, "zero": false}}}},
            {"data": {"values": [{}]},
             "mark": {"type": "text", "text": "EC₅₀ 1.94 μM (0.619 — 5.89)", "fontSize": 23, "align": "right", "baseline": "alphabetic", "dx": 1, "dy": -34},
             "encoding": {"x": {"datum": 1000, "type": "quantitative", "scale": {"type": "log", "domain": [0.0001, 1000], "nice": false}}, "y": {"datum": 1.25, "type": "quantitative", "scale": {"domain": [-0.2, 1.25], "nice": false, "zero": false}}}},
            {"data": {"values": [{}]},
             "mark": {"type": "text", "text": "Span\u00a0\u00a0\u00a0\u00a0\u00a0\u00a0\u00a0\u00a0\u00a056%", "fontSize": 23, "align": "right", "baseline": "alphabetic", "dx": 1, "dy": -6},
             "encoding": {"x": {"datum": 1000, "type": "quantitative", "scale": {"type": "log", "domain": [0.0001, 1000], "nice": false}}, "y": {"datum": 1.25, "type": "quantitative", "scale": {"domain": [-0.2, 1.25], "nice": false, "zero": false}}}}
           ]}
        ], "spacing": 34}
      ], "spacing": 26}
    ], "spacing": 41}
  ], "columns": 1, "align": "none", "spacing": 11}
]
}
